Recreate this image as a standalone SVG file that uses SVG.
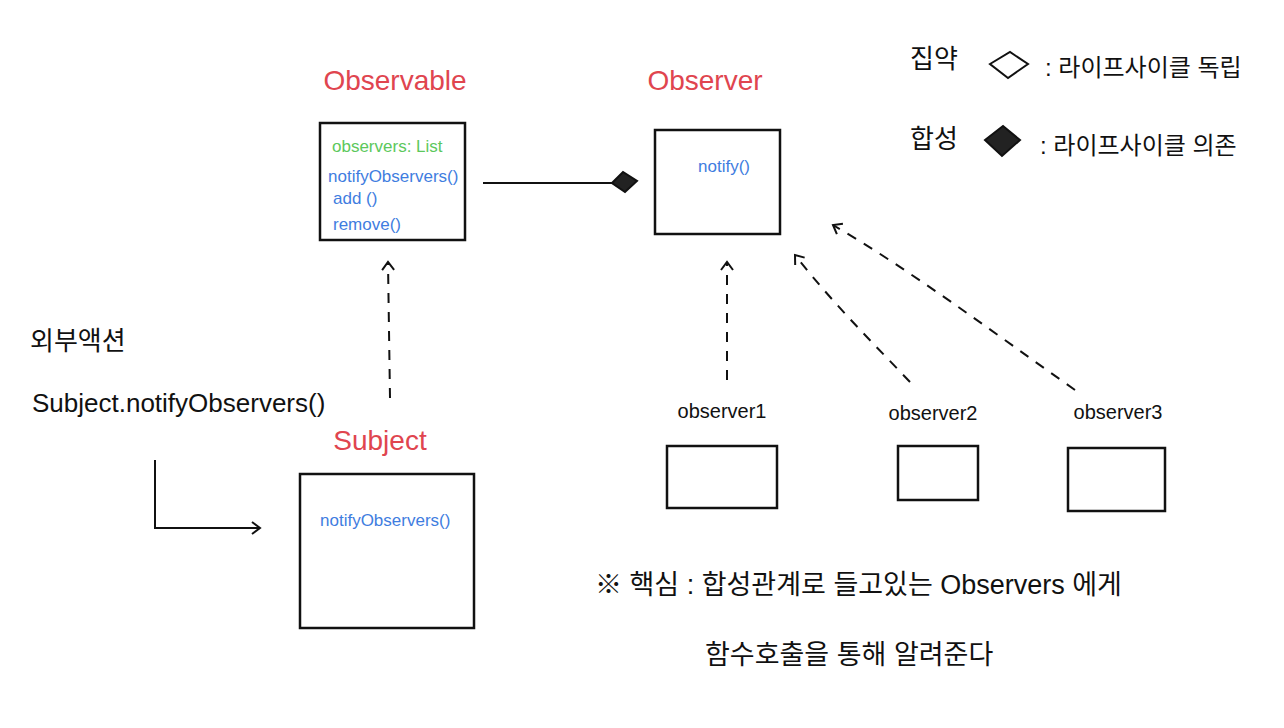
<svg xmlns="http://www.w3.org/2000/svg" width="1284" height="728" viewBox="0 0 1284 728">
<style>
.t{font-family:"Liberation Sans","Noto Sans CJK KR",sans-serif;fill:#111}
.red{fill:#e0454f;font-size:28px}
.blue{fill:#3f7de0;font-size:17px}
.green{fill:#5cc85c;font-size:17px}
.box{fill:none;stroke:#111;stroke-width:2.5}
.line{fill:none;stroke:#111;stroke-width:2}
.dash{fill:none;stroke:#111;stroke-width:2;stroke-dasharray:10 9}
</style>
<defs>
<marker id="open" markerWidth="14" markerHeight="14" refX="10" refY="7" orient="auto" markerUnits="userSpaceOnUse"><path d="M2,1 L10,7 L2,13" fill="none" stroke="#111" stroke-width="2"/></marker>
</defs>
<rect width="1284" height="728" fill="#fff"/>
<g id="observable">
<text class="t red" x="395" y="90" text-anchor="middle">Observable</text>
<rect class="box" x="320" y="123" width="145" height="117"/>
<text class="t green" x="332" y="152">observers: List</text>
<text class="t blue" x="328" y="182">notifyObservers()</text>
<text class="t blue" x="333" y="204">add ()</text>
<text class="t blue" x="333" y="230">remove()</text>
</g>
<g id="observer">
<text class="t red" x="705" y="90" text-anchor="middle">Observer</text>
<rect class="box" x="655" y="130" width="125" height="104"/>
<text class="t blue" x="698" y="172">notify()</text>
</g>
<g id="subject">
<text class="t red" x="380" y="450" text-anchor="middle">Subject</text>
<rect class="box" x="300" y="474" width="174" height="154"/>
<text class="t blue" x="320" y="526">notifyObservers()</text>
</g>
<g id="external">
<text class="t" x="30" y="350" font-size="26">외부액션</text>
<text class="t" x="32" y="412" font-size="26">Subject.notifyObservers()</text>
</g>
<g id="observer1">
<text class="t" x="722" y="418" font-size="20" text-anchor="middle">observer1</text>
<rect class="box" x="667" y="446" width="110" height="62"/>
</g>
<g id="observer2">
<text class="t" x="933" y="420" font-size="20" text-anchor="middle">observer2</text>
<rect class="box" x="898" y="446" width="80" height="54"/>
</g>
<g id="observer3">
<text class="t" x="1118" y="419" font-size="20" text-anchor="middle">observer3</text>
<rect class="box" x="1068" y="448" width="97" height="63"/>
</g>
<g id="legend">
<text class="t" x="910" y="68" font-size="26">집약</text>
<path d="M990,64 L1010,52 L1028,64 L1008,78 Z" class="line"/>
<text class="t" x="1045" y="76" font-size="24">: 라이프사이클 독립</text>
<text class="t" x="910" y="148" font-size="26">합성</text>
<path d="M985,140 L1003,126 L1020,140 L1002,156 Z" fill="#222" stroke="#111" stroke-width="2"/>
<text class="t" x="1040" y="154" font-size="24">: 라이프사이클 의존</text>
</g>
<g id="note">
<text class="t" x="595" y="594" font-size="27">※ 핵심 : 합성관계로 들고있는   Observers 에게</text>
<text class="t" x="705" y="664" font-size="27">함수호출을  통해  알려준다</text>
</g>
<g id="connectors">
<line class="line" x1="483" y1="183" x2="612" y2="183"/>
<path d="M612,183 L623,172 L637,181 L625,192 Z" fill="#222" stroke="#111" stroke-width="2"/>
<line class="dash" x1="390" y1="398" x2="388" y2="262" marker-end="url(#open)"/>
<line class="dash" x1="727" y1="380" x2="727" y2="262" marker-end="url(#open)"/>
<path class="dash" d="M910,382 C870,340 830,300 795,255" marker-end="url(#open)"/>
<path class="dash" d="M1075,390 C990,330 910,270 833,225" marker-end="url(#open)"/>
<path class="line" d="M155,460 L155,528 L260,528" marker-end="url(#open)"/>
</g>
</svg>
